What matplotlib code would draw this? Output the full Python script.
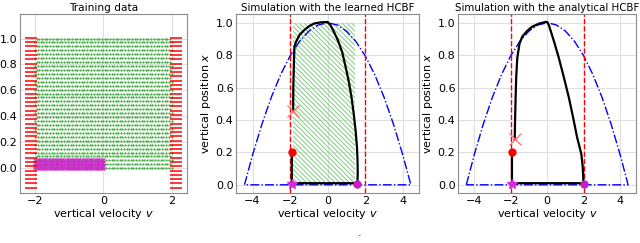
import numpy as np
import matplotlib.pyplot as plt
from matplotlib.patches import Rectangle

# ---------------- training data (panel 1) ----------------
train_v = np.linspace(-2.0, 2.0, 51)
train_x = np.linspace(0.0, 1.0, 34)
unsafe_x = np.arange(-0.15, 1.01, 0.033)
unsafe_v = [-2.13, 2.13]
ground_v = np.linspace(-2.0, 0.0, 41)
ground_x = [0.0, 0.02, 0.04, 0.06]

# ---------------- safe set boundary (dash-dot) ----------------
bound_v = [-4.43, -4.0, -3.5, -3.0, -2.5, -2.0, -1.5, -1.0, -0.5, 0.0,
           0.5, 1.0, 1.5, 2.0, 2.5, 3.0, 3.5, 4.0, 4.43, -4.43]
bound_x = [0.0, 0.184, 0.375, 0.541, 0.681, 0.796, 0.885, 0.949, 0.987, 1.0,
           0.987, 0.949, 0.885, 0.796, 0.681, 0.541, 0.375, 0.184, 0.0, 0.0]

v_limit = 2.0

# ---------------- learned HCBF trajectory ----------------
learned_v = [-1.91, -1.91, 1.58, 1.6, 1.59, 1.56, 1.49, 1.39, 1.27, 1.12, 0.95,
             0.77, 0.55, 0.33, 0.15, 0.0,
             -0.35, -0.72, -1.0, -1.25, -1.5, -1.68, -1.77, -1.8, -1.83, -1.84]
learned_x = [0.2, 0.01, 0.01, 0.067, 0.15, 0.23, 0.33, 0.435, 0.54, 0.64, 0.73,
             0.82, 0.89, 0.945, 0.985, 1.005,
             1.003, 0.996, 0.978, 0.955, 0.925, 0.884, 0.853, 0.75, 0.6, 0.455]
learned_start = (-1.91, 0.2)
learned_end = (-1.84, 0.455)
learned_star = (-1.91, 0.005)
learned_circ = (1.56, 0.005)
learned_region = (-1.83, 1.47, 0.0, 1.0)

# ---------------- analytical HCBF trajectory ----------------
anal_v = [-1.93, -1.93, 1.98, 1.97, 1.94, 1.87, 1.64, 1.42, 1.19, 0.92, 0.64,
          0.36, 0.09, 0.0,
          -0.09, -0.45, -0.82, -1.1, -1.37, -1.52, -1.64, -1.7, -1.73, -1.76, -1.78]
anal_x = [0.2, 0.01, 0.01, 0.06, 0.12, 0.19, 0.292, 0.415, 0.537, 0.66, 0.782,
          0.89, 0.986, 1.005,
          1.005, 0.995, 0.976, 0.95, 0.914, 0.87, 0.782, 0.66, 0.537, 0.4, 0.28]
anal_start = (-1.93, 0.2)
anal_end = (-1.78, 0.285)
anal_star = (-1.93, 0.005)
anal_circ = (2.0, 0.005)

plt.rcParams["font.family"] = "DejaVu Sans"
plt.rcParams["font.size"] = 8

fig = plt.figure(figsize=(6.4, 2.43), dpi=100)

ax1 = fig.add_axes([0.031, 0.206, 0.261, 0.737])
ax2 = fig.add_axes([0.369, 0.206, 0.286, 0.737])
ax3 = fig.add_axes([0.716, 0.206, 0.278, 0.737])


def style(ax):
    ax.grid(True, color="0.88", linewidth=0.8)
    ax.set_axisbelow(True)
    for s in ax.spines.values():
        s.set_color("0.55")
        s.set_linewidth(0.8)
    ax.tick_params(length=0, pad=2, labelsize=8)


# =====================================================
# TRAINING DATA
# =====================================================
for j, xv in enumerate(train_x):
    vv = train_v + (0.04 if j % 2 else 0.0)
    vv = vv[vv <= 2.0]
    ax1.plot(vv, np.full_like(vv, xv), ".", color="#38a838", markersize=1.2)

gv, gx = np.meshgrid(ground_v, ground_x)
ax1.plot(gv.ravel(), gx.ravel(), "x", color="#c92ec9", markersize=3,
         markeredgewidth=0.7)

for uv in unsafe_v:
    ax1.plot(np.full_like(unsafe_x, uv), unsafe_x, "_", color="red",
             markersize=8, markeredgewidth=1.1)

ax1.set_xlim(-2.45, 2.45)
ax1.set_ylim(-0.19, 1.19)
ax1.set_xticks([-2, 0, 2])
ax1.set_yticks([0.0, 0.2, 0.4, 0.6, 0.8, 1.0])
ax1.set_title("Training data", fontsize=7.6, pad=2)
ax1.set_xlabel("vertical velocity $v$", fontsize=8, labelpad=1)
style(ax1)


# =====================================================
# SIMULATIONS
# =====================================================
def sim(ax, tv, tx, start, end, star, circ, title):
    ax.plot(bound_v, bound_x, "-.", color="blue", linewidth=1.0)
    ax.axvline(-v_limit, color="red", linestyle="--", linewidth=1.0)
    ax.axvline(v_limit, color="red", linestyle="--", linewidth=1.0)
    ax.plot(tv, tx, "-", color="black", linewidth=1.6)
    ax.plot(*start, "o", color="red", markersize=5)
    ax.plot(*end, "x", color="#ff7070", markersize=8, markeredgewidth=0.9)
    ax.plot(*star, "*", color="#d62ad6", markersize=7)
    ax.plot(*circ, "o", color="#c31fc3", markersize=5)
    ax.set_xticks([-4, -2, 0, 2, 4])
    ax.set_yticks([0.0, 0.2, 0.4, 0.6, 0.8, 1.0])
    ax.set_title(title, fontsize=7.4, pad=2)
    ax.set_xlabel("vertical velocity $v$", fontsize=8, labelpad=1)
    ax.set_ylabel("vertical position $x$", fontsize=8, labelpad=2)
    style(ax)


v0, v1, x0, x1 = learned_region
plt.rcParams["hatch.linewidth"] = 0.8
ax2.add_patch(Rectangle((v0, x0), v1 - v0, x1 - x0, fill=False,
                        edgecolor="#8fd08f", hatch="\\\\\\\\\\\\\\",
                        linewidth=0, zorder=1))
sim(ax2, learned_v, learned_x, learned_start, learned_end, learned_star,
    learned_circ, "Simulation with the learned HCBF")
sim(ax3, anal_v, anal_x, anal_start, anal_end, anal_star, anal_circ,
    "Simulation with the analytical HCBF")

fig.text(0.559, 0.03, ".", fontsize=8)

fig.savefig("out.png", dpi=100)
